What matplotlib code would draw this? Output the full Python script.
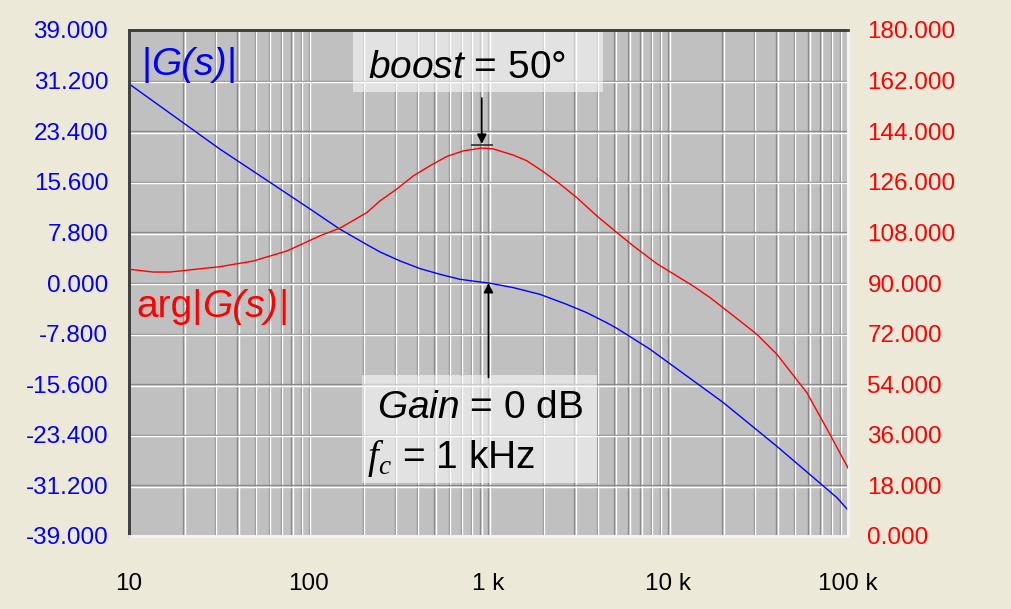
import matplotlib
matplotlib.use("Agg")
import matplotlib.pyplot as plt
import matplotlib.transforms as mtransforms
from matplotlib.lines import Line2D
from matplotlib.patches import Rectangle
from matplotlib.ticker import NullLocator
import numpy as np

plt.rcParams['font.family'] = ['Liberation Sans', 'DejaVu Sans']
plt.rcParams['mathtext.fontset'] = 'custom'
plt.rcParams['mathtext.rm'] = 'Liberation Sans'
plt.rcParams['mathtext.it'] = 'Liberation Sans:italic'
plt.rcParams['mathtext.cal'] = 'Liberation Serif:italic'

# ---- data ------------------------------------------------------------
mag_freq = [10, 32, 61, 98, 149, 211, 249, 322, 416, 537, 694, 897, 1000,
            1374, 1934, 2724, 3518, 4546, 5187, 7910, 20170, 40300, 86900,
            100000]
mag_db = [30.7, 20.65, 15.5, 11.7, 8.3, 5.9, 4.79, 3.40, 2.22, 1.34, 0.57,
          0.16, 0.0, -0.71, -1.75, -3.29, -4.57, -6.12, -7.0, -10.2, -18.4,
          -25.2, -33.1, -35.0]

phase_freq = [10, 13.6, 16.9, 32, 49, 75.7, 115.6, 149, 211, 249, 308.5,
              381.7, 472.6, 585.5, 724, 918, 1063, 1374, 1632, 2018, 2499,
              3095, 4000, 5167, 6391, 8627, 11630, 13790, 17080, 20180,
              25060, 31190, 40270, 59160, 79430, 100000]
phase_deg = [94.9, 93.9, 93.9, 95.8, 97.8, 101.4, 106.8, 109.5, 115.1, 119.2,
             123.4, 128.1, 131.7, 135.0, 137.0, 138.0, 137.7, 135.5, 133.5,
             129.6, 125.2, 120.4, 113.9, 108.0, 103.2, 96.9, 91.8, 88.9, 84.8,
             81.2, 76.5, 71.7, 64.6, 50.9, 36.1, 24.2]

x_ticks = [10, 100, 1000, 10000, 100000]
x_tick_labels = ['10', '100', '1 k', '10 k', '100 k']
mag_ticks = np.linspace(-39, 39, 11)
phase_ticks = np.linspace(0, 180, 11)

# ---- figure ----------------------------------------------------------
W, H = 1011, 609
fig = plt.figure(figsize=(W / 100, H / 100), dpi=100, facecolor='#ECE9D8')
ax = fig.add_axes([129 / W, (H - 536) / H, 719 / W, 506 / H])
ax.set_facecolor('#C0C0C0')
ax.set_xscale('log')
ax.set_xlim(10, 100000)
ax.set_ylim(-39, 39)
ax.autoscale(False)

# grid: a dark line with a light line beside it (engraved look)
xt = ax.get_xaxis_transform()
yt = ax.get_yaxis_transform()
xt_w = mtransforms.offset_copy(xt, fig=fig, x=1.4, y=0, units='dots')
yt_w = mtransforms.offset_copy(yt, fig=fig, x=0, y=-1.4, units='dots')
for dec in [10, 100, 1000, 10000]:
    for n in range(1, 10):
        f = n * dec
        if f == 10:
            continue
        ax.add_line(Line2D([f, f], [0, 1], transform=xt, color='#8a8a8a',
                           lw=1.0, zorder=1))
        ax.add_line(Line2D([f, f], [0, 1], transform=xt_w, color='#ffffff',
                           lw=1.0, zorder=1))
for v in mag_ticks[1:-1]:
    ax.add_line(Line2D([0, 1], [v, v], transform=yt, color='#8a8a8a',
                       lw=1.0, zorder=1))
    ax.add_line(Line2D([0, 1], [v, v], transform=yt_w, color='#ffffff',
                       lw=1.0, zorder=1))

ax.plot(mag_freq, mag_db, color='#0000FF', lw=1.0, zorder=3)

ax.set_xticks(x_ticks)
ax.set_xticklabels(x_tick_labels)
ax.xaxis.set_minor_locator(NullLocator())
ax.set_yticks(mag_ticks)
ax.set_yticklabels([f'{v:.3f}' for v in mag_ticks])
ax.tick_params(axis='x', length=0, pad=27, labelsize=17.5, labelcolor='black')
ax.tick_params(axis='y', length=0, pad=15, labelsize=17.5, labelcolor='#0000FF')

ax2 = ax.twinx()
ax2.set_ylim(0, 180)
ax2.plot(phase_freq, phase_deg, color='#FF0000', lw=1.0, zorder=3)
ax2.set_yticks(phase_ticks)
ax2.set_yticklabels([f'{v:.3f}' for v in phase_ticks])
ax2.tick_params(axis='y', length=0, pad=14, labelsize=17.5, labelcolor='#FF0000')
ax2.xaxis.set_minor_locator(NullLocator())

for a in (ax, ax2):
    a.spines['left'].set_color('#404040')
    a.spines['top'].set_color('#404040')
    a.spines['right'].set_color('#F4F4F4')
    a.spines['bottom'].set_color('#F4F4F4')
    for s in a.spines.values():
        s.set_linewidth(2.0)


def rich_text(target, x, y, parts, color, size=28, zorder=5):
    """Draw consecutive text pieces (text, style) on one baseline."""
    txt, style = parts[0]
    t = target.text(x, y, txt, transform=target.transAxes, color=color,
                    fontsize=size, fontstyle=style, ha='left', va='baseline',
                    zorder=zorder)
    for txt, style in parts[1:]:
        t = target.annotate(txt, xy=(1, 0), xycoords=t, color=color,
                            fontsize=size, fontstyle=style, ha='left',
                            va='bottom', zorder=zorder)
    return t


# ---- curve labels ----------------------------------------------------
rich_text(ax2, 0.0167, 0.911,
          [('|', 'normal'), ('G(s)', 'italic'), ('|', 'normal')], '#0000FF')
rich_text(ax2, 0.0097, 0.433,
          [('arg|', 'normal'), ('G(s)', 'italic'), ('|', 'normal')], '#FF0000')

# ---- annotation boxes ------------------------------------------------
box_kw = dict(transform=ax2.transAxes, facecolor='white', alpha=0.55,
              edgecolor='none', zorder=4)
ax2.add_patch(Rectangle((0.3115, 0.877), 0.659 - 0.3115, 0.996 - 0.877, **box_kw))
ax2.add_patch(Rectangle((0.324, 0.105), 0.651 - 0.324, 0.318 - 0.105, **box_kw))

ax2.text(0.470, 0.905, r'$\mathit{boost}$ = 50°', transform=ax2.transAxes,
         fontsize=28, ha='center', va='baseline', zorder=5)
ax2.text(0.488, 0.2326, r'$\mathit{Gain}$ = 0 dB', transform=ax2.transAxes,
         fontsize=28, ha='center', va='baseline', zorder=5)
ax2.text(0.331, 0.1338, r'$\mathcal{f}_{\mathcal{c}}$ = 1 kHz',
         transform=ax2.transAxes, fontsize=28, ha='left', va='baseline',
         zorder=5)

# arrow to the phase peak with a level bar
i_peak = int(np.argmax(phase_deg))
f_peak, p_peak = phase_freq[i_peak], phase_deg[i_peak]
bar_tr = ax2.transData + mtransforms.ScaledTranslation(0, 3 / 100, fig.dpi_scale_trans)
ax2.plot([f_peak], [p_peak], marker='_', markersize=16, mew=1.2,
         color='#303030', transform=bar_tr, zorder=5)
ax2.annotate('', xy=(f_peak, p_peak), xytext=(0, 36), textcoords='offset points',
             arrowprops=dict(arrowstyle='-|>', color='black', lw=1.2,
                             shrinkA=0, shrinkB=3, mutation_scale=14),
             zorder=5)

# arrow to the 0 dB crossover
ax2.annotate('', xy=(1000, 0.0), xycoords=ax.transData, xytext=(0, -68),
             textcoords='offset points',
             arrowprops=dict(arrowstyle='-|>', color='black', lw=1.2,
                             shrinkA=0, shrinkB=0, mutation_scale=14),
             zorder=5)

fig.savefig('out.png', dpi=100, facecolor=fig.get_facecolor())
